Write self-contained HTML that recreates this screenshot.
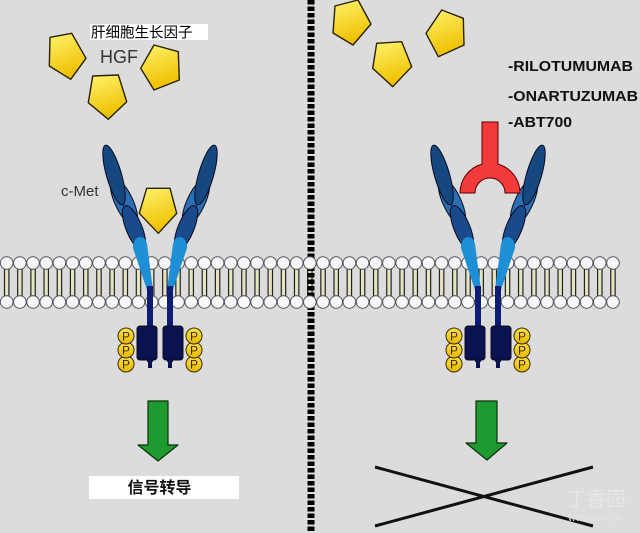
<!DOCTYPE html>
<html><head><meta charset="utf-8"><style>
html,body{margin:0;padding:0;background:#dcdcdc;}
svg{display:block;}
</style></head><body>
<svg width="640" height="533" viewBox="0 0 640 533" xmlns="http://www.w3.org/2000/svg">
<defs>
<linearGradient id="yg" x1="0" y1="0" x2="0.3" y2="1">
<stop offset="0" stop-color="#fff36e"/><stop offset="1" stop-color="#efc000"/>
</linearGradient>
<linearGradient id="pg" x1="0" y1="0" x2="0" y2="1">
<stop offset="0" stop-color="#ffe050"/><stop offset="1" stop-color="#e8b800"/>
</linearGradient>
</defs>
<rect width="640" height="533" fill="#dcdcdc"/>

<g id="membrane"></g>

<!-- divider -->
<line x1="311" y1="0" x2="311" y2="533" stroke="#000" stroke-width="7" stroke-dasharray="4.5 2"/>
<g id="memtop"></g>

<script>
(function(){
var ns="http://www.w3.org/2000/svg";
var g=document.getElementById("membrane");
var g2=document.getElementById("memtop");
for(var k=0;k<=46;k++){
 var cx=6.7+13.18*k;
 var r=document.createElementNS(ns,"rect");
 r.setAttribute("x",cx-2.2);r.setAttribute("y",269);r.setAttribute("width",4.4);r.setAttribute("height",27);
 r.setAttribute("fill","#e4e4c0");r.setAttribute("stroke","#222");r.setAttribute("stroke-width","1.2");
 g.appendChild(r);
}
for(var k=0;k<=46;k++){
 var cx=6.7+13.18*k;
 [263,302].forEach(function(cy){
  var c=document.createElementNS(ns,"circle");
  c.setAttribute("cx",cx);c.setAttribute("cy",cy);c.setAttribute("r",6.3);
  c.setAttribute("fill","#f7f7fc");c.setAttribute("stroke","#555");c.setAttribute("stroke-width","1");
  g2.appendChild(c);
 });
}
})();
</script>

<!-- left receptor -->
<g stroke="#0a0a20" stroke-width="1">
<ellipse cx="124" cy="202" rx="9" ry="26" transform="rotate(-25 124 202)" fill="#2b6fb5"/>
<ellipse cx="134" cy="228" rx="8" ry="24" transform="rotate(-22 134 228)" fill="#184a8c"/>
<ellipse cx="114" cy="175" rx="7.5" ry="31" transform="rotate(-16 114 175)" fill="#164880"/>
<path d="M133,248 C132,236 145,233 147,244 L153,290 L147,290 Z" fill="#1e8fd6" stroke="none"/>
<ellipse cx="196" cy="202" rx="9" ry="26" transform="rotate(25 196 202)" fill="#2b6fb5"/>
<ellipse cx="186" cy="228" rx="8" ry="24" transform="rotate(22 186 228)" fill="#184a8c"/>
<ellipse cx="206" cy="175" rx="7.5" ry="31" transform="rotate(16 206 175)" fill="#164880"/>
<path d="M187,248 C188,236 175,233 173,244 L167,290 L173,290 Z" fill="#1e8fd6" stroke="none"/>
<rect x="147" y="286" width="6" height="76" fill="#0e1c74" stroke="none"/>
<rect x="167" y="286" width="6" height="76" fill="#0e1c74" stroke="none"/>
<rect x="148" y="356" width="4" height="12" fill="#0b1250" stroke="none"/>
<rect x="168" y="356" width="4" height="12" fill="#0b1250" stroke="none"/>
<rect x="137" y="326" width="20" height="34" rx="3" fill="#0b1250"/>
<rect x="163" y="326" width="20" height="34" rx="3" fill="#0b1250"/>
<g fill="url(#pg)" stroke="#3a2c00">
<circle cx="126" cy="364" r="8"/><circle cx="126" cy="350" r="8"/><circle cx="126" cy="336" r="8"/>
<circle cx="194" cy="364" r="8"/><circle cx="194" cy="350" r="8"/><circle cx="194" cy="336" r="8"/>
</g>
<g font-family="Liberation Sans, sans-serif" font-size="12" fill="#3a2c00" stroke="none" text-anchor="middle">
<text x="126" y="368.5">P</text><text x="126" y="354.5">P</text><text x="126" y="340.5">P</text>
<text x="194" y="368.5">P</text><text x="194" y="354.5">P</text><text x="194" y="340.5">P</text>
</g>
</g>

<!-- right receptor -->
<g transform="translate(328,0)" stroke="#0a0a20" stroke-width="1">
<ellipse cx="124" cy="202" rx="9" ry="26" transform="rotate(-25 124 202)" fill="#2b6fb5"/>
<ellipse cx="134" cy="228" rx="8" ry="24" transform="rotate(-22 134 228)" fill="#184a8c"/>
<ellipse cx="114" cy="175" rx="7.5" ry="31" transform="rotate(-16 114 175)" fill="#164880"/>
<path d="M133,248 C132,236 145,233 147,244 L153,290 L147,290 Z" fill="#1e8fd6" stroke="none"/>
<ellipse cx="196" cy="202" rx="9" ry="26" transform="rotate(25 196 202)" fill="#2b6fb5"/>
<ellipse cx="186" cy="228" rx="8" ry="24" transform="rotate(22 186 228)" fill="#184a8c"/>
<ellipse cx="206" cy="175" rx="7.5" ry="31" transform="rotate(16 206 175)" fill="#164880"/>
<path d="M187,248 C188,236 175,233 173,244 L167,290 L173,290 Z" fill="#1e8fd6" stroke="none"/>
<rect x="147" y="286" width="6" height="76" fill="#0e1c74" stroke="none"/>
<rect x="167" y="286" width="6" height="76" fill="#0e1c74" stroke="none"/>
<rect x="148" y="356" width="4" height="12" fill="#0b1250" stroke="none"/>
<rect x="168" y="356" width="4" height="12" fill="#0b1250" stroke="none"/>
<rect x="137" y="326" width="20" height="34" rx="3" fill="#0b1250"/>
<rect x="163" y="326" width="20" height="34" rx="3" fill="#0b1250"/>
<g fill="url(#pg)" stroke="#3a2c00">
<circle cx="126" cy="364" r="8"/><circle cx="126" cy="350" r="8"/><circle cx="126" cy="336" r="8"/>
<circle cx="194" cy="364" r="8"/><circle cx="194" cy="350" r="8"/><circle cx="194" cy="336" r="8"/>
</g>
<g font-family="Liberation Sans, sans-serif" font-size="12" fill="#3a2c00" stroke="none" text-anchor="middle">
<text x="126" y="368.5">P</text><text x="126" y="354.5">P</text><text x="126" y="340.5">P</text>
<text x="194" y="368.5">P</text><text x="194" y="354.5">P</text><text x="194" y="340.5">P</text>
</g>
</g>

<!-- HGF pentagons -->
<g fill="url(#yg)" stroke="#2a2200" stroke-width="1.4" stroke-linejoin="round">
<polygon points="50,37.3 71.7,33.3 86,58.3 70.7,79.3 49.3,66"/>
<polygon points="92.7,76 118.3,75 126.7,101.7 108.3,119.3 88.3,102.7"/>
<polygon points="154,45 178.3,51.7 179.3,80 154,90 140.7,68.3"/>
<polygon points="146.7,188.3 170,188.3 176.7,213.3 158.3,233.3 139.3,213.3"/>
<polygon points="335,6 358,0 371,24 353,45 333,33"/>
<polygon points="376.7,43.3 401.7,41.7 411.7,66.7 392.7,86.7 372.7,68.3"/>
<polygon points="441.7,10 463.3,18.3 464,45 438.3,56.7 426,33.3"/>
</g>

<!-- antibody -->
<path d="M482,122 H498 V164.1 A30,30 0 0 1 520,193 H505 A15,15 0 0 0 475,193 H460 A30,30 0 0 1 482,164.1 Z" fill="#f23a3a" stroke="#5a0000" stroke-width="1"/>

<!-- labels -->
<rect x="90" y="24" width="118" height="16" fill="#fff"/>
<text x="91" y="37.5" font-family="Liberation Sans, 'Noto Sans CJK SC', sans-serif" font-size="14.5" fill="#000">肝细胞生长因子</text>
<text x="100" y="63" font-family="Liberation Sans, sans-serif" font-size="18" fill="#333">HGF</text>
<text x="61" y="196" font-family="Liberation Sans, sans-serif" font-size="15" fill="#333">c-Met</text>

<g font-family="Liberation Sans, sans-serif" font-weight="bold" font-size="14.5" fill="#111">
<text x="508" y="71" textLength="125" lengthAdjust="spacingAndGlyphs">-RILOTUMUMAB</text>
<text x="508" y="101" textLength="130" lengthAdjust="spacingAndGlyphs">-ONARTUZUMAB</text>
<text x="508" y="127" textLength="64" lengthAdjust="spacingAndGlyphs">-ABT700</text>
</g>

<!-- arrows -->
<polygon points="148,401 168,401 168,445 178,445 158,461 138,445 148,445" fill="#1f9a30" stroke="#0a300a" stroke-width="1.2" stroke-linejoin="round"/>
<polygon points="476,401 497,401 497,443 507,443 487,460 466,443 476,443" fill="#1f9a30" stroke="#0a300a" stroke-width="1.2" stroke-linejoin="round"/>

<rect x="89" y="476" width="150" height="23" fill="#fff"/>
<text x="159.5" y="493" text-anchor="middle" font-family="Liberation Sans, 'Noto Sans CJK SC', sans-serif" font-size="16" font-weight="bold" fill="#111">信号转导</text>

<!-- X -->
<line x1="375" y1="467" x2="593" y2="526" stroke="#111" stroke-width="3"/>
<line x1="375" y1="526" x2="593" y2="467" stroke="#111" stroke-width="3"/>

<!-- watermark -->
<text x="566" y="506" font-family="Liberation Sans, 'Noto Sans CJK SC', sans-serif" font-size="20" fill="#e6e6e6">丁香园</text>
<text x="568" y="521" font-family="Liberation Sans, sans-serif" font-size="8" fill="#e6e6e6">WWW.DXY.CN</text>
</svg>
</body></html>
